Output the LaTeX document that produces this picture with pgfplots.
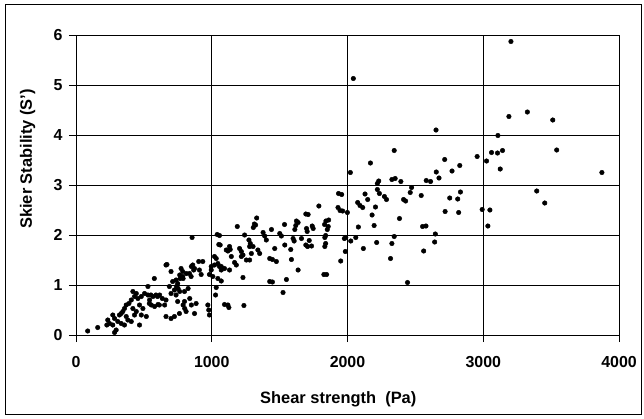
\documentclass[border=0pt]{standalone}
\usepackage{fontspec}
\setmainfont{Liberation Sans}
\usepackage{pgfplots}
\pgfplotsset{compat=1.18}
\begin{document}
\begin{tikzpicture}[x=1bp,y=1bp]
\useasboundingbox (-76,-83) rectangle (568,335);
\draw[line width=0.9bp] (-71,-79) rectangle (565,331);
\begin{axis}[
  at={(0,0)}, anchor=south west,
  scale only axis, width=543bp, height=300bp,
  xmin=0, xmax=4000, ymin=0, ymax=6,
  xtick={0,1000,2000,3000,4000}, ytick={0,1,2,3,4,5,6},
  scaled ticks=false,
  /pgf/number format/assume math mode=true,
  /pgf/number format/1000 sep={},
  grid=major,
  major grid style={black, line width=0.9bp},
  axis line style={line width=0.9bp},
  tick style={black, line width=0.9bp},
  tick align=outside, tick pos=left, major tick length=7bp,
  tick label style={font=\bfseries\fontsize{16}{18}\selectfont},
  xticklabel style={yshift=-11bp},
  yticklabel style={xshift=-3bp},
  xlabel={Shear strength~~(Pa)},
  ylabel={Skier Stability (S')},
  label style={font=\bfseries\fontsize{16.5}{19}\selectfont},
  xlabel style={at={(axis description cs:0.483,-0.213)}, anchor=center},
  ylabel style={at={(axis description cs:-0.089,0.587)}, anchor=center},
]
\addplot[only marks, mark=*, mark size=2.3bp, black] coordinates {
(86,0.08)(160,0.15)(227,0.20)(234,0.30)(247,0.23)(271,0.20)(296,0.10)(284,0.05)
(271,0.40)(284,0.33)(320,0.40)(333,0.43)(345,0.47)(308,0.27)(333,0.23)(357,0.20)
(357,0.53)(370,0.60)(390,0.63)(407,0.70)(370,0.37)(382,0.30)(407,0.27)(431,0.77)
(444,0.83)(456,0.73)(419,0.53)(444,0.47)(431,0.40)(468,0.60)(493,0.53)(481,0.77)
(505,0.83)(530,0.80)(419,0.87)(481,0.40)(518,0.37)(468,0.20)(542,0.70)(555,0.60)
(567,0.77)(530,0.97)(579,0.57)(604,0.61)(616,0.80)(636,0.73)(552,0.80)(540,0.63)
(589,0.80)(601,0.77)(614,0.60)(577,1.13)(663,1.40)(670,1.41)(663,0.70)(663,0.37)
(653,0.60)(700,1.27)(688,0.97)(725,0.90)(700,0.83)(700,0.33)(725,0.37)(712,1.07)
(737,1.10)(749,1.03)(740,0.97)(752,0.93)(764,0.87)(737,0.80)(749,0.67)(762,0.43)
(774,1.33)(786,1.27)(786,1.17)(767,1.13)(764,1.20)(789,1.13)(813,1.23)(799,0.87)
(799,0.67)(811,0.47)(789,0.60)(801,0.53)(836,1.23)(848,1.17)(860,1.40)(873,1.33)
(850,1.37)(867,1.30)(826,0.93)(838,0.73)(850,0.60)(855,1.95)(885,0.63)(873,0.43)
(904,1.47)(934,1.47)(909,1.30)(922,1.21)(971,0.60)(978,0.50)(983,0.40)(996,1.30)
(996,1.37)(983,1.21)(1008,1.17)(1020,1.40)(1033,1.53)(1045,1.43)(1057,1.37)(1070,1.30)
(1094,1.33)(1045,1.13)(1070,1.08)(1033,0.95)(1028,0.80)(1040,2.01)(1052,1.81)(1057,1.99)
(1062,1.80)(1107,1.70)(1136,1.71)(1131,1.77)(1119,1.68)(1144,1.57)(1205,1.73)(1218,1.67)
(1279,1.77)(1292,1.63)(1255,1.50)(1020,1.57)(1070,1.37)(1131,1.30)(1094,0.61)(1126,0.55)
(1119,0.60)(1237,0.59)(1168,1.45)(1181,1.40)(1218,1.57)(1230,1.60)(1230,1.15)(1279,1.50)
(1274,1.90)(1284,1.83)(1304,1.77)(1242,2.00)(1188,2.17)(1331,2.34)(1314,2.22)(1306,2.15)
(1323,2.20)(1340,1.70)(1353,1.63)(1378,2.05)(1390,1.98)(1402,1.90)(1427,1.53)(1447,1.51)
(1476,1.47)(1464,1.73)(1440,2.11)(1501,2.03)(1513,1.98)(1536,2.21)(1538,1.80)(1550,1.11)
(1525,0.85)(1427,1.07)(1447,1.06)(1587,1.51)(1582,1.71)(1599,1.93)(1607,1.88)(1612,2.11)
(1619,2.19)(1624,2.28)(1636,2.25)(1636,1.30)(1661,1.93)(1693,2.42)(1710,2.41)(1698,2.13)
(1703,2.07)(1740,2.18)(1747,2.13)(1718,1.89)(1706,1.77)(1735,1.78)(1693,1.80)(1789,2.58)
(1826,1.21)(1846,1.21)(1831,2.21)(1841,2.28)(1861,2.30)(1858,2.17)(1851,2.11)(1839,1.99)
(1833,1.95)(1839,1.83)(1833,1.77)(1930,2.55)(1945,2.49)(1934,2.83)(1957,2.81)(1964,2.48)
(1999,2.45)(1977,1.93)(1987,1.95)(2024,1.88)(2061,1.95)(1984,1.67)(1950,1.48)(2021,3.25)
(2043,5.13)(2075,2.65)(2092,2.59)(2112,2.55)(2080,2.16)(2129,2.82)(2149,2.71)(2117,1.73)
(2169,3.44)(2181,2.40)(2196,2.19)(2206,2.56)(2215,1.85)(2220,2.91)(2235,2.83)(2220,3.03)
(2230,3.08)(2272,2.77)(2287,2.71)(2317,1.53)(2327,1.83)(2344,1.97)(2344,3.69)(2327,3.11)
(2351,3.13)(2383,2.33)(2393,3.07)(2413,2.71)(2428,2.68)(2442,1.05)(2462,2.85)(2472,2.95)
(2543,2.79)(2553,2.17)(2578,2.18)(2561,1.68)(2580,3.09)(2612,3.07)(2642,1.86)(2647,2.02)
(2652,4.10)(2654,3.26)(2674,3.14)(2716,3.51)(2719,2.47)(2753,2.74)(2770,3.28)(2812,2.72)
(2819,2.45)(2827,3.39)(2832,2.86)(2955,3.57)(2992,2.51)(3024,3.48)(3034,2.18)(3049,2.50)
(3061,3.65)(3105,3.64)(3108,3.99)(3125,3.32)(3142,3.69)(3189,4.37)(3204,5.87)(3325,4.46)
(3394,2.88)(3453,2.64)(3512,4.30)(3541,3.70)(3874,3.25)
};
\end{axis}
\end{tikzpicture}
\end{document}
